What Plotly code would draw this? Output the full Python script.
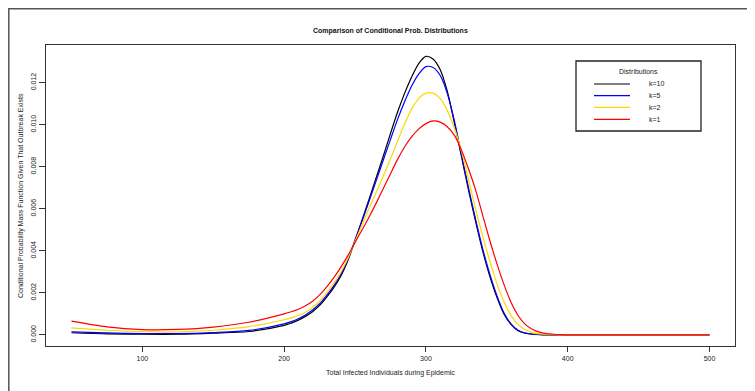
import plotly.graph_objects as go

# ---------------- data ----------------
x_vals = [50, 75, 100, 125, 150, 175,
          200, 205, 210, 215, 220, 225, 230, 235, 240, 245,
          250, 255, 260, 265, 270, 275, 280, 285, 290, 295,
          300, 305, 310, 315, 320, 325, 330, 335, 340, 345,
          350, 355, 360, 365, 370, 375, 380, 385, 390, 395,
          400, 450, 500]

k10 = [0.00010, 0.00005, 0.00003, 0.00003, 0.00008, 0.00016,
       0.00045, 0.00056, 0.00070, 0.00088, 0.00110, 0.00140, 0.00180, 0.00225, 0.00280, 0.00355,
       0.00450, 0.00548, 0.00648, 0.00750, 0.00852, 0.00958, 0.01060, 0.01150, 0.01228, 0.01292,
       0.01325, 0.01312, 0.01262, 0.01160, 0.01010, 0.00850, 0.00690, 0.00540, 0.00400, 0.00280,
       0.00180, 0.00100, 0.00050, 0.00020, 0.00008, 0.00003, 0.00001, 0.0, 0.0, 0.0,
       0.0, 0.0, 0.0]

k5 = [0.00014, 0.00009, 0.00006, 0.00006, 0.00011, 0.00021,
      0.00052, 0.00063, 0.00077, 0.00095, 0.00118, 0.00148, 0.00188, 0.00233, 0.00288, 0.00360,
      0.00450, 0.00543, 0.00638, 0.00735, 0.00833, 0.00930, 0.01025, 0.01110, 0.01185, 0.01242,
      0.01276, 0.01272, 0.01235, 0.01150, 0.01020, 0.00860, 0.00700, 0.00550, 0.00410, 0.00290,
      0.00188, 0.00105, 0.00052, 0.00022, 0.00009, 0.00004, 0.00002, 0.00001, 0.0, 0.0,
      0.0, 0.0, 0.0]

k2 = [0.00033, 0.00022, 0.00015, 0.00014, 0.00022, 0.00039,
      0.00072, 0.00081, 0.00092, 0.00108, 0.00130, 0.00160, 0.00200, 0.00245, 0.00298, 0.00365,
      0.00445, 0.00525, 0.00603, 0.00680, 0.00757, 0.00838, 0.00922, 0.01005, 0.01075, 0.01125,
      0.01150, 0.01150, 0.01125, 0.01068, 0.00985, 0.00875, 0.00740, 0.00600, 0.00470, 0.00352,
      0.00245, 0.00158, 0.00093, 0.00049, 0.00024, 0.00011, 0.00005, 0.00002, 0.00001, 0.0,
      0.0, 0.0, 0.0]

k1 = [0.00065, 0.00038, 0.00025, 0.00026, 0.00037, 0.00060,
      0.00100, 0.00110, 0.00122, 0.00138, 0.00160, 0.00190, 0.00228, 0.00272, 0.00322, 0.00378,
      0.00440, 0.00500, 0.00562, 0.00628, 0.00697, 0.00767, 0.00835, 0.00895, 0.00943, 0.00980,
      0.01005, 0.01018, 0.01012, 0.00990, 0.00950, 0.00880, 0.00790, 0.00690, 0.00570, 0.00450,
      0.00340, 0.00240, 0.00155, 0.00092, 0.00050, 0.00027, 0.00013, 0.00006, 0.00003, 0.00001,
      0.0, 0.0, 0.0]

series_labels = ["k=10", "k=5", "k=2", "k=1"]
series_values = [k10, k5, k2, k1]
series_colors = ["#000000", "#0000FF", "#FFD700", "#FF0000"]

x_ticks = [100, 200, 300, 400, 500]
y_ticks = [0.000, 0.002, 0.004, 0.006, 0.008, 0.010, 0.012]
y_tick_labels = ["0.000", "0.002", "0.004", "0.006", "0.008", "0.010", "0.012"]

title_text = "Comparison of Conditional Prob. Distributions"
x_title = "Total Infected Individuals during Epidemic"
y_title = "Conditional Probability Mass Function Given That Outbreak Exists"
legend_title = "Distributions"

# ---------------- layout geometry ----------------
# the page body has an 8px margin, so figure coordinates = page coordinates - 8
OFF = 8
W, H = 755 - OFF, 391 - OFF
L, R, T, B = 46 - OFF, 735 - OFF, 45 - OFF, 346 - OFF
FONT = "Liberation Sans, Arial, Helvetica, sans-serif"


def px(x):
    """page x pixel -> paper coordinate"""
    return (x - OFF - L) / (R - L)


def py(y):
    """page y pixel -> paper coordinate"""
    return (B - (y - OFF)) / (B - T)


fig = go.Figure()
for lab, vals, col in zip(series_labels, series_values, series_colors):
    fig.add_trace(go.Scatter(
        x=x_vals, y=vals, mode="lines", name=lab,
        line=dict(color=col, width=1.2, shape="spline", smoothing=0.8),
        showlegend=False, hoverinfo="x+y+name",
    ))

shapes = []
annotations = []

# outer frame (cropped by the window on the right and bottom)
shapes.append(dict(type="rect", xref="paper", yref="paper",
                   x0=px(8.8), x1=px(800), y0=py(440), y1=py(8.8),
                   line=dict(color="#555555", width=1.5), fillcolor="rgba(0,0,0,0)",
                   layer="below"))

# manual legend box
lx0, lx1, ly0, ly1 = 576, 701, 61, 131
shapes.append(dict(type="rect", xref="paper", yref="paper",
                   x0=px(lx0), x1=px(lx1), y0=py(ly1), y1=py(ly0),
                   line=dict(color="#222222", width=1.3), fillcolor="white"))
annotations.append(dict(xref="paper", yref="paper", x=px(638), y=py(71),
                        text=legend_title, showarrow=False,
                        font=dict(family=FONT, size=7, color="#222"),
                        xanchor="center", yanchor="middle"))
row_y = [84, 95.7, 107.3, 119.3]
for lab, col, yy in zip(series_labels, series_colors, row_y):
    shapes.append(dict(type="line", xref="paper", yref="paper",
                       x0=px(594), x1=px(630), y0=py(yy), y1=py(yy),
                       line=dict(color=col, width=1.2)))
    annotations.append(dict(xref="paper", yref="paper", x=px(647), y=py(yy),
                            text=lab, showarrow=False,
                            font=dict(family=FONT, size=7, color="#222"),
                            xanchor="left", yanchor="middle"))

# title and axis titles
annotations.append(dict(xref="paper", yref="paper", x=px(390), y=py(30.5),
                        text="<b>" + title_text + "</b>", showarrow=False,
                        font=dict(family=FONT, size=7, color="#111"),
                        xanchor="center", yanchor="middle"))
annotations.append(dict(xref="paper", yref="paper", x=px(390), y=py(373),
                        text=x_title, showarrow=False,
                        font=dict(family=FONT, size=7, color="#222"),
                        xanchor="center", yanchor="middle"))
annotations.append(dict(xref="paper", yref="paper", x=px(21), y=py(196),
                        text=y_title, showarrow=False, textangle=-90,
                        font=dict(family=FONT, size=7, color="#222"),
                        xanchor="center", yanchor="middle"))

fig.update_layout(
    width=W, height=H,
    margin=dict(l=L, r=W - R, t=T, b=H - B, pad=0),
    paper_bgcolor="white", plot_bgcolor="white",
    showlegend=False,
    shapes=shapes, annotations=annotations,
    font=dict(family=FONT, size=7, color="#222"),
)
fig.update_xaxes(
    range=[32, 518], tickvals=x_ticks, ticktext=[str(v) for v in x_ticks],
    showgrid=False, zeroline=False,
    showline=True, linecolor="#333333", linewidth=1.2, mirror=True,
    ticks="outside", ticklen=5, tickcolor="#333333", tickwidth=1,
    tickfont=dict(family=FONT, size=7, color="#222"),
)
fig.update_yaxes(
    range=[-0.00053, 0.01379], tickvals=y_ticks, ticktext=y_tick_labels,
    tickangle=-90,
    showgrid=False, zeroline=False,
    showline=True, linecolor="#333333", linewidth=1.2, mirror=True,
    ticks="outside", ticklen=6, tickcolor="#333333", tickwidth=1,
    tickfont=dict(family=FONT, size=7, color="#222"),
)

fig.write_html("out.html")
